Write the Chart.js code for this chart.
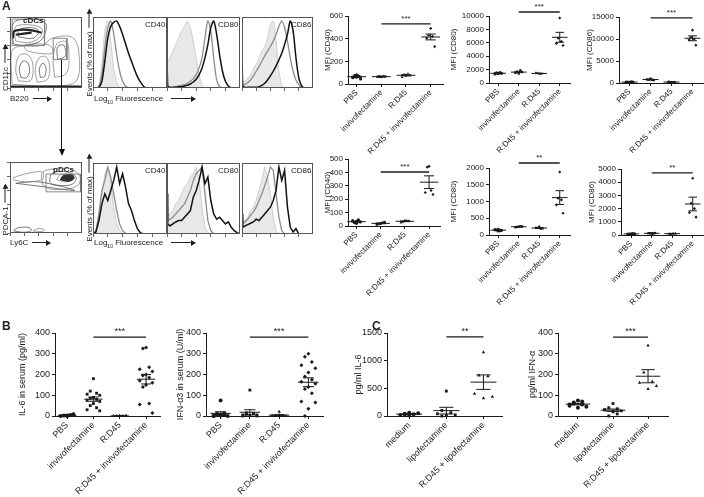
<!DOCTYPE html>
<html>
<head>
<meta charset="utf-8">
<script src="https://cdn.jsdelivr.net/npm/chart.js@4.4.1/dist/chart.umd.min.js"></script>
<style>
  body { margin: 0; background: #fff; }
  #fig { position: relative; width: 704px; height: 497px; overflow: hidden; font-family: "Liberation Sans", Arial, sans-serif; color: #222; }
  #fig canvas { position: absolute; }
  .t { position: absolute; white-space: nowrap; font-size: 8px; line-height: 9px; }
  .v { transform: translate(-50%, -50%) rotate(-90deg); }
  .b { font-weight: bold; }
  .ar { display: inline-block; width: 18px; border-top: 1px solid #222; vertical-align: middle; position: relative; margin-left: 4px; }
  .ar::after { content: ''; position: absolute; right: -1px; top: -3.5px; border-left: 5px solid #222; border-top: 3px solid transparent; border-bottom: 3px solid transparent; }
  .vline { position: absolute; border-left: 1.2px solid #111; }
  .ahead { position: absolute; width: 0; height: 0; border-top: 7px solid #111; border-left: 3px solid transparent; border-right: 3px solid transparent; }
</style>
</head>
<body>
<div id="fig"></div>
<script>
// ---- dot plot data (panel A, B, C) ----
const groupsA = ['PBS', 'invivofectamine', 'R:D45', 'R:D45 + invivofectamine'];
const groupsC = ['medium', 'lipofectamine', 'R:D45 + lipofectamine'];

// cDCs
const cdcCd40 = [[60, 75, 70, 55, 45, 80, 65], [62, 65, 68, 64, 66, 63, 67], [70, 85, 90, 60, 75, 80], [490, 430, 420, 405, 330]];
const cdcCd80 = [[1400, 1500, 1550, 1350, 1450], [1600, 1700, 1900, 1500, 1650, 1400], [1400, 1450, 1350, 1500], [9700, 6700, 6200, 5900, 5600]];
const cdcCd86 = [[150, 200, 250, 180, 220], [1000, 750, 700, 800, 650, 850], [200, 250, 150, 300, 180], [12000, 10400, 10000, 9800, 8600]];
// pDCs
const pdcCd40 = [[35, 25, 45, 40, 30, 20], [20, 15, 25, 10, 30, 18], [35, 30, 40, 25, 38, 42], [445, 440, 265, 250, 235]];
const pdcCd80 = [[170, 150, 130, 160, 140, 120], [250, 240, 260, 230, 255], [200, 210, 180, 220, 190, 260], [1880, 1100, 1050, 900, 650]];
const pdcCd86 = [[80, 60, 100, 70, 90], [120, 140, 110, 130, 150, 100], [100, 80, 120, 90, 110], [4300, 2400, 2000, 1700, 1350]];

// panel B (serum)
const serumIl6 = [
  [0, 2, 5, 0, 8, 3],
  [180, 120, 110, 105, 100, 90, 85, 80, 75, 70, 60, 50, 40, 30, 25],
  [0, 0, 0, 0, 2, 1],
  [330, 325, 235, 225, 215, 200, 195, 185, 170, 160, 150, 140, 60, 55, 15]
];
const serumIfn = [
  [75, 10, 5, 0, 0, 2, 8, 12, 0],
  [125, 15, 10, 5, 0, 2, 8, 12, 0, 5],
  [20, 0, 0, 2, 0, 5, 1],
  [300, 285, 260, 245, 230, 210, 190, 175, 165, 155, 140, 130, 110, 70, 65, 35, 0]
];
// panel C (in vitro)
const vitroIl6 = [[60, 40, 30, 20, 50, 10, 25], [450, 100, 60, 40, 20, 10, 0], [1150, 730, 720, 400, 350, 320]];
const vitroIfn = [[75, 60, 55, 50, 45, 40, 65, 70, 55], [60, 40, 35, 30, 25, 20, 0, 10, 30], [340, 210, 165, 160, 145, 130]];

// ---- histogram data (% of max vs log fluorescence channel, 0-100) ----
const histX = [0, 1, 4, 8, 12, 16, 20, 24, 28, 32, 36, 40, 44, 48, 52, 56, 60, 64, 68, 72, 76, 80, 84, 88, 92, 96, 100];
const cdcCd40Iso  = [0, 0, 0, 5, 35, 85, 100, 70, 30, 8, 2, 0, 0, 0, 0, 0, 0, 0, 0, 0, 0, 0, 0, 0, 0, 0, 0];
const cdcCd40Ctrl = [0, 0, 0, 2, 20, 60, 90, 100, 80, 50, 25, 10, 3, 0, 0, 0, 0, 0, 0, 0, 0, 0, 0, 0, 0, 0, 0];
const cdcCd40Trt  = [0, 0, 0, 1, 10, 40, 75, 92, 98, 100, 92, 80, 66, 52, 40, 28, 17, 9, 3, 0, 0, 0, 0, 0, 0, 0, 0];
const cdcCd80Iso  = [45, 40, 45, 55, 65, 75, 85, 92, 100, 90, 70, 45, 20, 5, 0, 0, 0, 0, 0, 0, 0, 0, 0, 0, 0, 0, 0];
const cdcCd80Ctrl = [10, 2, 1, 1, 2, 3, 4, 5, 7, 10, 14, 20, 30, 45, 75, 100, 85, 45, 12, 2, 0, 0, 0, 0, 0, 0, 0];
const cdcCd80Trt  = [70, 3, 1, 1, 1, 2, 2, 3, 4, 6, 9, 13, 20, 30, 45, 65, 90, 100, 80, 50, 25, 10, 3, 0, 0, 0, 0];
const cdcCd86Iso  = [20, 10, 10, 15, 20, 28, 35, 45, 55, 62, 75, 95, 100, 70, 25, 5, 0, 0, 0, 0, 0, 0, 0, 0, 0, 0, 0];
const cdcCd86Ctrl = [30, 5, 5, 8, 12, 18, 25, 32, 40, 48, 55, 62, 70, 80, 92, 100, 90, 70, 45, 25, 12, 5, 1, 0, 0, 0, 0];
const cdcCd86Trt  = [90, 3, 1, 1, 1, 1, 1, 2, 4, 7, 12, 18, 25, 33, 42, 52, 65, 80, 100, 85, 45, 15, 3, 0, 0, 0, 0];
const pdcCd40Iso  = [0, 0, 5, 25, 60, 90, 100, 75, 40, 15, 5, 1, 0, 0, 0, 0, 0, 0, 0, 0, 0, 0, 0, 0, 0, 0, 0];
const pdcCd40Ctrl = [0, 0, 5, 30, 65, 80, 100, 85, 60, 35, 15, 5, 1, 0, 0, 0, 0, 0, 0, 0, 0, 0, 0, 0, 0, 0, 0];
const pdcCd40Trt  = [0, 0, 3, 20, 45, 60, 50, 65, 80, 100, 75, 90, 70, 45, 35, 20, 8, 2, 0, 0, 0, 0, 0, 0, 0, 0, 0];
const pdcCd80Iso  = [30, 25, 30, 35, 45, 50, 60, 70, 75, 85, 90, 100, 80, 40, 10, 2, 0, 0, 0, 0, 0, 0, 0, 0, 0, 0, 0];
const pdcCd80Ctrl = [40, 20, 22, 25, 30, 35, 40, 45, 55, 65, 80, 90, 95, 100, 60, 20, 5, 0, 0, 0, 0, 0, 0, 0, 0, 0, 0];
const pdcCd80Trt  = [60, 15, 12, 15, 18, 20, 20, 25, 30, 35, 55, 65, 80, 100, 75, 85, 50, 30, 22, 25, 20, 15, 18, 10, 5, 2, 0];
const pdcCd86Iso  = [20, 15, 20, 25, 35, 40, 50, 65, 80, 100, 85, 60, 25, 5, 0, 0, 0, 0, 0, 0, 0, 0, 0, 0, 0, 0, 0];
const pdcCd86Ctrl = [25, 15, 18, 22, 28, 33, 40, 50, 60, 72, 85, 100, 95, 60, 25, 5, 0, 0, 0, 0, 0, 0, 0, 0, 0, 0, 0];
const pdcCd86Trt  = [30, 10, 12, 14, 16, 18, 22, 20, 25, 30, 35, 40, 50, 65, 100, 80, 95, 40, 10, 3, 8, 0, 0, 0, 0, 0, 0];

// ---- contour outlines (B220 x CD11c, Ly6C x PDCA-1), 0-100 units ----
const cdcContours = [
  [[3, 5], [2, 50], [10, 58], [45, 60], [58, 70], [85, 72], [95, 55], [92, 10], [60, 3], [3, 5]],
  [[5, 62], [3, 75], [5, 92], [20, 97], [40, 96], [50, 90], [48, 75], [40, 65], [20, 60], [5, 62]],
  [[8, 66], [6, 80], [10, 88], [35, 88], [45, 82], [40, 70], [25, 64], [8, 66]],
  [[12, 72], [12, 82], [30, 85], [40, 80], [32, 70], [12, 72]],
  [[12, 10], [8, 25], [12, 45], [22, 48], [30, 40], [32, 22], [28, 10], [12, 10]],
  [[15, 15], [13, 28], [18, 38], [25, 35], [27, 22], [22, 14], [15, 15]],
  [[38, 8], [35, 25], [40, 42], [50, 44], [55, 30], [52, 12], [38, 8]],
  [[42, 15], [41, 28], [46, 35], [50, 28], [48, 16], [42, 15]],
  [[62, 15], [60, 40], [65, 62], [78, 65], [82, 45], [78, 20], [62, 15]],
  [[66, 40], [66, 58], [75, 60], [77, 45], [66, 40]],
  [[18, 60], [30, 62], [55, 60], [60, 50], [52, 48], [25, 52], [18, 60]]
];
const cdcDense = [[[1, 2], [99, 2]], [[4, 70], [6, 80], [25, 82], [44, 78]], [[8, 75], [30, 78]]];
const cdcGates = [
  [[3, 60], [3, 97], [48, 97], [48, 60], [3, 60]],
  [[60, 40], [60, 70], [79, 70], [79, 40], [60, 40]]
];
const pdcContours = [
  [[5, 78], [20, 83], [45, 86], [45, 76], [25, 72], [5, 75], [5, 78]],
  [[8, 70], [40, 66], [90, 60], [40, 72], [8, 70]],
  [[45, 68], [45, 85], [60, 90], [85, 90], [97, 80], [95, 68], [80, 62], [55, 62], [45, 68]],
  [[55, 72], [58, 84], [80, 86], [92, 78], [85, 68], [60, 68], [55, 72]],
  [[65, 75], [70, 82], [85, 82], [88, 76], [78, 72], [65, 75]],
  [[5, 3], [10, 7], [25, 8], [30, 4], [20, 1], [5, 3]],
  [[32, 3], [38, 6], [48, 5], [44, 2], [32, 3]]
];
const pdcCore = [[70, 75], [74, 81], [86, 82], [89, 77], [82, 73], [70, 75]];
const pdcGates = [[[50, 58], [50, 83], [98, 83], [98, 58], [50, 58]]];

const INK = '#1a1a1a';
const FONT = '"Liberation Sans", Arial, sans-serif';
const fig = document.getElementById('fig');

function addCanvas(left, top, w, h) {
  const cv = document.createElement('canvas');
  cv.width = w; cv.height = h;
  cv.style.left = left + 'px'; cv.style.top = top + 'px';
  fig.appendChild(cv);
  return cv;
}

function label(html, x, y, cls, size) {
  const d = document.createElement('div');
  d.className = 't ' + (cls || '');
  d.innerHTML = html;
  d.style.left = x + 'px'; d.style.top = y + 'px';
  if (size) { d.style.fontSize = size + 'px'; d.style.lineHeight = (size + 1) + 'px'; }
  fig.appendChild(d);
  return d;
}

// points of a group sit side by side in rows of five, like a Prism dot plot
function spread(k) { const j = k % 5; return j === 0 ? 0 : (j % 2 ? -1 : 1) * Math.ceil(j / 2); }

const boxPlugin = {
  id: 'box',
  afterDraw(chart) {
    const a = chart.chartArea, c = chart.ctx;
    c.save();
    c.strokeStyle = '#555'; c.lineWidth = 1;
    c.strokeRect(Math.round(a.left) + 0.5, Math.round(a.top) + 0.5, Math.round(a.right - a.left) - 1, Math.round(a.bottom - a.top) - 1);
    c.restore();
  }
};

function dotPlot(o) {
  const padT = 18, padR = 3;
  const cv = addCanvas(o.l - o.padL, o.top - padT, o.r - o.l + o.padL + padR, o.bottom - o.top + padT + o.padB);
  const font = { family: FONT, size: o.fs };
  const datasets = o.groups.map((vals, gi) => ({
    data: vals.map((v, k) => ({ x: gi + spread(k) * o.jit, y: v })),
    pointStyle: o.shapes[gi], pointRadius: o.pr,
    backgroundColor: INK, borderColor: INK, borderWidth: 0, clip: false
  }));
  const stat = {
    id: 'stat',
    afterDatasetsDraw(chart) {
      const xs = chart.scales.x, ys = chart.scales.y, c = chart.ctx;
      const unit = xs.getPixelForValue(1) - xs.getPixelForValue(0);
      const seg = (x1, y1, x2, y2) => { c.beginPath(); c.moveTo(x1, y1); c.lineTo(x2, y2); c.stroke(); };
      c.save();
      c.strokeStyle = INK; c.lineWidth = 1;
      o.groups.forEach((vals, gi) => {
        const n = vals.length;
        const m = vals.reduce((a, b) => a + b, 0) / n;
        const sd = Math.sqrt(vals.reduce((a, b) => a + (b - m) * (b - m), 0) / (n - 1));
        const se = sd / Math.sqrt(n);
        const xm = xs.getPixelForValue(gi), hw = o.mw * unit, cw = hw * 0.55;
        const ym = ys.getPixelForValue(m), yh = ys.getPixelForValue(m + se), yl = ys.getPixelForValue(Math.max(0, m - se));
        seg(xm - hw, ym, xm + hw, ym);
        seg(xm, yh, xm, yl);
        seg(xm - cw, yh, xm + cw, yh);
        seg(xm - cw, yl, xm + cw, yl);
      });
      const s = o.sig, y = ys.getPixelForValue(s.y);
      const x1 = xs.getPixelForValue(s.from), x2 = xs.getPixelForValue(s.to);
      c.lineWidth = 1.3;
      seg(x1, y, x2, y);
      c.fillStyle = INK;
      c.font = o.fs + 'px ' + FONT;
      c.textAlign = 'center'; c.textBaseline = 'alphabetic';
      c.fillText(s.label, (x1 + x2) / 2, y - 3);
      c.restore();
    }
  };
  new Chart(cv, {
    type: 'scatter',
    data: { datasets },
    options: {
      responsive: false, animation: false, events: [],
      layout: { autoPadding: false, padding: { left: 0, top: padT, right: padR, bottom: 0 } },
      plugins: { legend: { display: false }, tooltip: { enabled: false } },
      scales: {
        x: {
          type: 'linear', min: o.xmin, max: o.xmax,
          afterFit: s => { s.height = o.padB; },
          afterBuildTicks: s => { s.ticks = o.cats.map((c, i) => ({ value: i })); },
          ticks: { autoSkip: false, minRotation: 45, maxRotation: 45, padding: 1, color: INK, font, callback: v => o.cats[v] },
          grid: { drawOnChartArea: false, color: INK, tickLength: 3 },
          border: { color: INK }
        },
        y: {
          min: 0, max: o.max,
          afterFit: s => { s.width = o.padL; },
          ticks: { stepSize: o.step, padding: 2, color: INK, font, callback: v => String(v) },
          grid: { drawOnChartArea: false, color: INK, tickLength: 3 },
          border: { color: INK },
          title: { display: true, text: o.title, color: INK, font, padding: 0 }
        }
      }
    },
    plugins: [stat]
  });
}

function histPlot(o) {
  const cv = addCanvas(o.l, o.top, o.r - o.l, o.bottom - o.top + 3);
  const pts = vals => histX.map((x, i) => ({ x, y: vals[i] }));
  new Chart(cv, {
    type: 'line',
    data: {
      datasets: [
        { data: pts(o.trt), borderColor: '#111', borderWidth: 1.5, fill: false },
        { data: pts(o.ctrl), borderColor: '#8c8c8c', borderWidth: 1.3, fill: false },
        { data: pts(o.iso), borderColor: '#cfcfcf', backgroundColor: '#e8e8e8', borderWidth: 1, fill: 'origin' }
      ]
    },
    options: {
      responsive: false, animation: false, events: [],
      elements: { point: { radius: 0 }, line: { tension: o.tension } },
      layout: { autoPadding: false, padding: 0 },
      plugins: { legend: { display: false }, tooltip: { enabled: false } },
      scales: {
        x: {
          type: 'linear', min: 0, max: 100,
          afterFit: s => { s.height = 3; },
          ticks: { display: false, stepSize: 20 },
          grid: { drawOnChartArea: false, color: '#666', tickLength: 3 },
          border: { display: false }
        },
        y: { display: false, min: 0, max: 106 }
      }
    },
    plugins: [boxPlugin]
  });
  label(o.name, o.r - 22, o.top + 3);
}

function contourPlot(o) {
  const cv = addCanvas(o.l - 3, o.top, o.r - o.l + 3, o.bottom - o.top + 3);
  const ds = [];
  const xy = poly => poly.map(([x, y]) => ({ x, y }));
  o.gates.forEach(poly => ds.push({
    data: xy(poly), showLine: true, tension: 0,
    borderColor: '#7a7a7a', borderWidth: 0.9, pointRadius: 0, fill: false
  }));
  o.dense.forEach(poly => ds.push({
    data: xy(poly), showLine: true, tension: 0.35,
    borderColor: '#222', borderWidth: 2.2, pointRadius: 0, fill: false
  }));
  if (o.core) ds.push({
    data: xy(o.core), showLine: true, tension: 0.35,
    borderColor: '#222', backgroundColor: '#333', borderWidth: 1, pointRadius: 0, fill: 'shape'
  });
  o.lines.forEach((poly, i) => ds.push({
    data: xy(poly), showLine: true, tension: 0.35,
    borderColor: i % 2 ? '#555' : '#888', borderWidth: 0.8, pointRadius: 0, fill: false
  }));
  new Chart(cv, {
    type: 'scatter',
    data: { datasets: ds },
    options: {
      responsive: false, animation: false, events: [],
      layout: { autoPadding: false, padding: 0 },
      plugins: { legend: { display: false }, tooltip: { enabled: false } },
      scales: {
        x: {
          min: 0, max: 100, afterFit: s => { s.height = 3; },
          ticks: { display: false, stepSize: 20 },
          grid: { drawOnChartArea: false, color: '#666', tickLength: 3 }, border: { display: false }
        },
        y: {
          min: 0, max: 100, afterFit: s => { s.width = 3; },
          ticks: { display: false, stepSize: 20 },
          grid: { drawOnChartArea: false, color: '#666', tickLength: 3 }, border: { display: false }
        }
      }
    },
    plugins: [boxPlugin]
  });
}

// ---- panel A: flow plots ----
contourPlot({ l: 10, r: 82, top: 17, bottom: 88, lines: cdcContours, dense: cdcDense, gates: cdcGates });
contourPlot({ l: 10, r: 82, top: 162, bottom: 233, lines: pdcContours, dense: [], core: pdcCore, gates: pdcGates });

histPlot({ l: 93, r: 167, top: 17, bottom: 88, iso: cdcCd40Iso, ctrl: cdcCd40Ctrl, trt: cdcCd40Trt, name: 'CD40', tension: 0.3 });
histPlot({ l: 167, r: 240, top: 17, bottom: 88, iso: cdcCd80Iso, ctrl: cdcCd80Ctrl, trt: cdcCd80Trt, name: 'CD80', tension: 0.3 });
histPlot({ l: 242, r: 313, top: 17, bottom: 88, iso: cdcCd86Iso, ctrl: cdcCd86Ctrl, trt: cdcCd86Trt, name: 'CD86', tension: 0.3 });
histPlot({ l: 93, r: 167, top: 163, bottom: 234, iso: pdcCd40Iso, ctrl: pdcCd40Ctrl, trt: pdcCd40Trt, name: 'CD40', tension: 0 });
histPlot({ l: 167, r: 240, top: 163, bottom: 234, iso: pdcCd80Iso, ctrl: pdcCd80Ctrl, trt: pdcCd80Trt, name: 'CD80', tension: 0 });
histPlot({ l: 242, r: 313, top: 163, bottom: 234, iso: pdcCd86Iso, ctrl: pdcCd86Ctrl, trt: pdcCd86Trt, name: 'CD86', tension: 0 });

// ---- panel A: MFI dot plots ----
const shapesA = ['circle', 'rect', 'triangle', 'rectRot'];
const baseA = { fs: 8, pr: 1.6, jit: 0.08, mw: 0.38, padB: 80, cats: groupsA, shapes: shapesA };
dotPlot({ ...baseA, l: 348, r: 443, top: 16, bottom: 84, max: 600, step: 200, padL: 25, xmin: -0.35, xmax: 3.5, title: 'MFI (CD40)', groups: cdcCd40, sig: { from: 1, to: 3, y: 530, label: '***' } });
dotPlot({ ...baseA, l: 489, r: 570, top: 16, bottom: 83, max: 10000, step: 2000, padL: 40, xmin: -0.45, xmax: 3.5, title: 'MFI (CD80)', groups: cdcCd80, sig: { from: 1, to: 3, y: 10600, label: '***' } });
dotPlot({ ...baseA, l: 619, r: 703, top: 17, bottom: 83, max: 15000, step: 5000, padL: 34, xmin: -0.5, xmax: 3.5, title: 'MFI (CD86)', groups: cdcCd86, sig: { from: 1, to: 3, y: 14800, label: '***' } });
dotPlot({ ...baseA, l: 348, r: 440, top: 159, bottom: 226, max: 500, step: 100, padL: 25, xmin: -0.35, xmax: 3.45, title: 'MFI (CD40)', groups: pdcCd40, sig: { from: 1, to: 3, y: 403, label: '***' } });
dotPlot({ ...baseA, l: 489, r: 570, top: 168, bottom: 235, max: 2000, step: 500, padL: 40, xmin: -0.45, xmax: 3.5, title: 'MFI (CD80)', groups: pdcCd80, sig: { from: 1, to: 3, y: 2150, label: '**' } });
dotPlot({ ...baseA, l: 621, r: 703, top: 169, bottom: 235, max: 5000, step: 1000, padL: 34, xmin: -0.5, xmax: 3.5, title: 'MFI (CD86)', groups: pdcCd86, sig: { from: 1, to: 3, y: 4700, label: '**' } });

// ---- panel B ----
const baseB = { fs: 9, pr: 2, jit: 0.12, mw: 0.35, padB: 82 };
dotPlot({ ...baseB, l: 55, r: 160, top: 333, bottom: 416, max: 400, step: 100, padL: 38, xmin: -0.46, xmax: 3.53, title: 'IL-6 in serum (pg/ml)', cats: groupsA, shapes: shapesA, groups: serumIl6, sig: { from: 1, to: 3, y: 380, label: '***' } });
dotPlot({ ...baseB, l: 206, r: 323, top: 333, bottom: 416, max: 400, step: 100, padL: 31, xmin: -0.5, xmax: 3.5, title: 'IFN-\u03b13 in serum (U/ml)', cats: groupsA, shapes: shapesA, groups: serumIfn, sig: { from: 1, to: 3, y: 380, label: '***' } });

// ---- panel C ----
const shapesC = ['circle', 'rect', 'triangle'];
dotPlot({ ...baseB, l: 387, r: 502, top: 333, bottom: 416, max: 1500, step: 500, padL: 34, xmin: -0.6, xmax: 2.5, title: 'pg/ml IL-6', cats: groupsC, shapes: shapesC, groups: vitroIl6, sig: { from: 1, to: 2, y: 1430, label: '**' } });
dotPlot({ ...baseB, l: 558, r: 668, top: 333, bottom: 416, max: 400, step: 100, padL: 31, xmin: -0.57, xmax: 2.57, title: 'pg/ml IFN-\u03b1', cats: groupsC, shapes: shapesC, groups: vitroIfn, sig: { from: 1, to: 2, y: 380, label: '***' } });

// ---- text annotations ----
label('A', 2, 0, 'b', 12);
label('B', 2, 320, 'b', 12);
label('C', 372, 320, 'b', 12);
label('cDCs', 23, 16, 'b');
label('pDCs', 53, 165, 'b');
label('CD11c<span class="ar"></span>', 5, 68, 'v');
label('B220<span class="ar"></span>', 10, 94);
label('PDCA-1<span class="ar"></span>', 5, 210, 'v');
label('Ly6C<span class="ar"></span>', 10, 238);
label('Events (% of max)<span class="ar"></span>', 89, 53, 'v');
label('Events (% of max)<span class="ar"></span>', 89, 198, 'v');
label('Log<sub style="font-size:5px">10</sub> Fluorescence<span class="ar" style="width:24px;margin-left:8px"></span>', 94, 94);
label('Log<sub style="font-size:5px">10</sub> Fluorescence<span class="ar" style="width:24px;margin-left:8px"></span>', 94, 238);

// gate arrow from cDC plot to pDC plot
const vl = document.createElement('div');
vl.className = 'vline';
vl.style.left = '61px'; vl.style.top = '60px'; vl.style.height = '90px';
fig.appendChild(vl);
const ah = document.createElement('div');
ah.className = 'ahead';
ah.style.left = '58.5px'; ah.style.top = '149px';
fig.appendChild(ah);
</script>
</body>
</html>
